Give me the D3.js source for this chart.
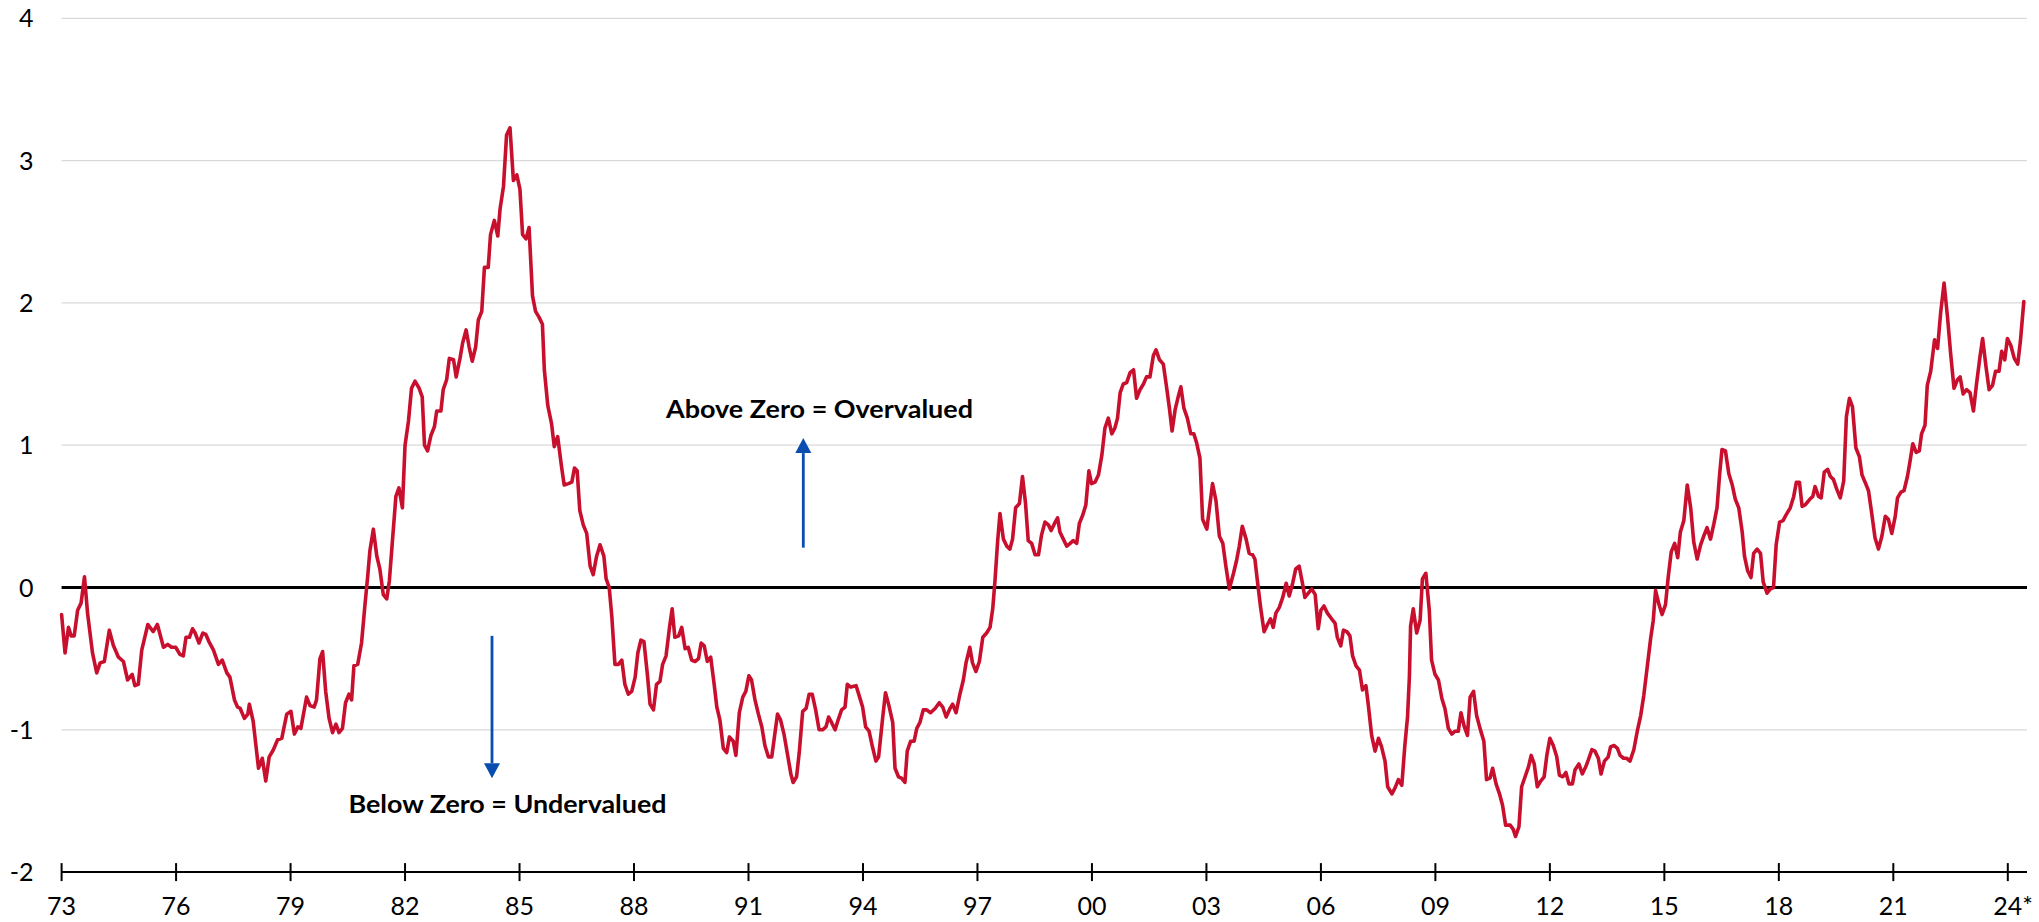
<!DOCTYPE html>
<html>
<head>
<meta charset="utf-8">
<script src="https://cdn.jsdelivr.net/npm/d3@7"></script>
<style>
  html, body { margin: 0; padding: 0; background: #ffffff; }
  svg { display: block; }
</style>
</head>
<body>
<svg id="chart" width="2039" height="922"></svg>
<script>
// ---------- DATA ----------
const xTickYears  = [1973,1976,1979,1982,1985,1988,1991,1994,1997,2000,2003,2006,2009,2012,2015,2018,2021,2024];
const xTickLabels = ["73","76","79","82","85","88","91","94","97","00","03","06","09","12","15","18","21","24*"];
const yTicks = [-2,-1,0,1,2,3,4];

// [decimal year, value] — valuation in standard deviations
const series1973 = [[1973.00,-0.19],[1973.09,-0.46],[1973.18,-0.28],[1973.25,-0.34],[1973.33,-0.34],[1973.42,-0.16],[1973.51,-0.11],[1973.60,0.075],[1973.68,-0.18],[1973.81,-0.46],[1973.92,-0.60],[1974.01,-0.53],[1974.12,-0.52],[1974.25,-0.30],[1974.36,-0.41],[1974.49,-0.49],[1974.62,-0.52],[1974.73,-0.65],[1974.85,-0.61],[1974.92,-0.69],[1975.01,-0.68],[1975.10,-0.44],[1975.26,-0.26],[1975.40,-0.31],[1975.51,-0.26],[1975.67,-0.42],[1975.78,-0.40],[1975.88,-0.42],[1975.99,-0.42],[1976.10,-0.47],[1976.19,-0.48],[1976.26,-0.35],[1976.35,-0.35],[1976.43,-0.29],[1976.50,-0.32],[1976.60,-0.39],[1976.70,-0.32],[1976.78,-0.33],[1976.86,-0.38],[1976.98,-0.44],[1977.11,-0.54],[1977.21,-0.51],[1977.33,-0.60],[1977.41,-0.63],[1977.53,-0.79],[1977.61,-0.84],[1977.68,-0.85],[1977.79,-0.92],[1977.88,-0.89],[1977.92,-0.82],[1978.02,-0.94],[1978.16,-1.27],[1978.26,-1.20],[1978.35,-1.36],[1978.44,-1.19],[1978.55,-1.14],[1978.66,-1.07],[1978.77,-1.06],[1978.90,-0.89],[1979.01,-0.87],[1979.10,-1.03],[1979.19,-0.98],[1979.27,-0.99],[1979.42,-0.77],[1979.51,-0.83],[1979.62,-0.84],[1979.68,-0.79],[1979.77,-0.50],[1979.84,-0.45],[1979.92,-0.73],[1980.01,-0.92],[1980.10,-1.02],[1980.19,-0.96],[1980.27,-1.02],[1980.36,-0.99],[1980.44,-0.81],[1980.53,-0.75],[1980.60,-0.79],[1980.66,-0.55],[1980.76,-0.54],[1980.86,-0.39],[1980.95,-0.12],[1981.02,0.075],[1981.08,0.26]];

const series1981 = [[1981.17,0.41],[1981.26,0.22],[1981.34,0.13],[1981.43,-0.05],[1981.52,-0.08],[1981.59,0.05],[1981.67,0.33],[1981.76,0.64],[1981.84,0.70],[1981.93,0.56],[1982.00,1.00],[1982.09,1.17],[1982.17,1.40],[1982.26,1.45],[1982.37,1.40],[1982.45,1.34],[1982.51,1.00],[1982.59,0.96],[1982.68,1.07],[1982.77,1.13],[1982.83,1.24],[1982.94,1.24],[1983.00,1.39],[1983.09,1.46],[1983.16,1.61],[1983.27,1.60],[1983.34,1.48],[1983.44,1.61],[1983.51,1.72],[1983.60,1.81],[1983.68,1.69],[1983.76,1.59],[1983.85,1.69],[1983.92,1.88],[1984.01,1.94],[1984.08,2.25],[1984.18,2.25],[1984.24,2.48],[1984.34,2.58],[1984.43,2.47],[1984.49,2.66],[1984.58,2.82],[1984.66,3.18],[1984.75,3.23],[1984.84,2.86],[1984.93,2.90],[1985.01,2.80],[1985.08,2.48],[1985.17,2.45],[1985.25,2.53],[1985.34,2.05],[1985.42,1.94],[1985.51,1.90],[1985.60,1.85],[1985.65,1.53],[1985.74,1.28],[1985.84,1.15],[1985.91,0.99],[1986.00,1.06],[1986.10,0.85],[1986.17,0.72],[1986.28,0.73],[1986.37,0.74],[1986.44,0.84],[1986.51,0.82],[1986.58,0.54],[1986.67,0.44],[1986.76,0.38],[1986.85,0.15],[1986.93,0.09],[1987.02,0.22],[1987.11,0.30]];

const series1987 = [[1987.21,0.22],[1987.27,0.06],[1987.35,0.00],[1987.42,-0.21],[1987.50,-0.54],[1987.59,-0.54],[1987.68,-0.51],[1987.76,-0.68],[1987.85,-0.75],[1987.94,-0.73],[1988.03,-0.63],[1988.10,-0.46],[1988.18,-0.37],[1988.26,-0.38],[1988.35,-0.61],[1988.42,-0.82],[1988.51,-0.86],[1988.59,-0.68],[1988.68,-0.66],[1988.75,-0.54],[1988.84,-0.48],[1988.93,-0.28],[1989.00,-0.15],[1989.07,-0.35],[1989.17,-0.34],[1989.25,-0.28],[1989.34,-0.43],[1989.42,-0.42],[1989.51,-0.51],[1989.60,-0.52],[1989.69,-0.50],[1989.76,-0.39],[1989.84,-0.41],[1989.92,-0.52],[1990.01,-0.49],[1990.10,-0.68],[1990.17,-0.84],[1990.25,-0.93],[1990.34,-1.13],[1990.43,-1.16],[1990.50,-1.05],[1990.60,-1.08],[1990.67,-1.18],[1990.76,-0.88],[1990.85,-0.77],[1990.93,-0.73],[1991.01,-0.62],[1991.08,-0.65],[1991.17,-0.79],[1991.26,-0.89],[1991.35,-0.98],[1991.43,-1.11],[1991.52,-1.19],[1991.61,-1.19],[1991.69,-1.03],[1991.76,-0.89],[1991.84,-0.93],[1991.93,-1.03],[1992.02,-1.17],[1992.11,-1.31],[1992.17,-1.37],[1992.26,-1.33],[1992.33,-1.16],[1992.42,-0.87],[1992.51,-0.85],[1992.59,-0.75],[1992.67,-0.75],[1992.76,-0.86],[1992.85,-1.00],[1992.94,-1.00],[1993.03,-0.98],[1993.10,-0.91],[1993.18,-0.95],[1993.27,-1.00],[1993.35,-0.93],[1993.44,-0.86],[1993.53,-0.84],[1993.59,-0.68],[1993.68,-0.70],[1993.82,-0.69],[1993.90,-0.76],[1993.99,-0.84],[1994.07,-0.98],[1994.16,-1.01],[1994.24,-1.11],[1994.34,-1.22],[1994.41,-1.19],[1994.51,-0.93],[1994.59,-0.74],[1994.68,-0.83],[1994.78,-0.95],[1994.84,-1.27],[1994.93,-1.33],[1995.01,-1.34],[1995.10,-1.37],[1995.16,-1.15],[1995.25,-1.08],[1995.34,-1.08],[1995.41,-0.99],[1995.49,-0.95],[1995.58,-0.86],[1995.67,-0.86],[1995.77,-0.88],[1995.89,-0.85],[1996.00,-0.81],[1996.09,-0.84],[1996.18,-0.91],[1996.28,-0.85],[1996.35,-0.82],[1996.44,-0.88],[1996.54,-0.75],[1996.63,-0.65],[1996.70,-0.53],[1996.80,-0.42],[1996.87,-0.53],[1996.96,-0.59],[1997.05,-0.52],[1997.14,-0.35],[1997.24,-0.32],[1997.33,-0.28],[1997.40,-0.15],[1997.46,0.05],[1997.53,0.33]];

const series1997 = [[1997.59,0.52],[1997.68,0.34],[1997.77,0.29],[1997.85,0.27],[1997.92,0.34],[1998.00,0.56],[1998.10,0.59],[1998.18,0.78],[1998.26,0.59],[1998.33,0.33],[1998.42,0.31],[1998.51,0.23],[1998.60,0.23],[1998.68,0.37],[1998.77,0.46],[1998.86,0.44],[1998.93,0.40],[1999.02,0.45],[1999.10,0.49],[1999.16,0.39],[1999.25,0.34],[1999.34,0.29],[1999.43,0.31],[1999.51,0.33],[1999.60,0.31],[1999.67,0.45],[1999.76,0.51],[1999.84,0.58],[1999.92,0.82],[1999.99,0.73],[2000.08,0.74],[2000.17,0.79],[2000.26,0.93],[2000.34,1.12],[2000.43,1.19],[2000.52,1.08],[2000.60,1.12],[2000.67,1.19],[2000.74,1.37],[2000.82,1.43],[2000.91,1.44],[2001.00,1.51],[2001.09,1.53],[2001.17,1.33],[2001.26,1.39],[2001.35,1.43],[2001.43,1.48],[2001.52,1.48],[2001.61,1.63],[2001.68,1.67],[2001.77,1.60],[2001.87,1.57],[2001.96,1.40],[2002.03,1.26],[2002.10,1.10],[2002.18,1.25],[2002.26,1.34],[2002.33,1.41],[2002.41,1.26],[2002.50,1.19],[2002.59,1.08],[2002.67,1.08],[2002.74,1.02],[2002.83,0.91],[2002.90,0.48],[2003.01,0.41],[2003.09,0.58],[2003.16,0.73],[2003.25,0.61],[2003.34,0.36],[2003.43,0.31],[2003.51,0.15],[2003.60,-0.01],[2003.71,0.10],[2003.79,0.19],[2003.86,0.29],[2003.94,0.43],[2004.04,0.34],[2004.12,0.24],[2004.21,0.23],[2004.27,0.20],[2004.33,0.06],[2004.42,-0.14],[2004.51,-0.31],[2004.60,-0.26],[2004.68,-0.22],[2004.75,-0.28],[2004.82,-0.18],[2004.91,-0.14],[2005.00,-0.07],[2005.09,0.03],[2005.17,-0.06]];

const series2005 = [[2005.26,0.03],[2005.34,0.13],[2005.43,0.15],[2005.51,0.04],[2005.58,-0.07],[2005.67,-0.04],[2005.76,-0.01],[2005.85,-0.05],[2005.93,-0.29],[2006.00,-0.16],[2006.08,-0.13],[2006.17,-0.18],[2006.28,-0.22],[2006.37,-0.25],[2006.43,-0.35],[2006.52,-0.41],[2006.59,-0.30],[2006.68,-0.31],[2006.76,-0.34],[2006.83,-0.48],[2006.92,-0.55],[2007.01,-0.58],[2007.09,-0.72],[2007.18,-0.69],[2007.24,-0.82],[2007.33,-1.04],[2007.42,-1.15],[2007.51,-1.06],[2007.59,-1.12],[2007.68,-1.22],[2007.75,-1.40],[2007.86,-1.45],[2007.94,-1.41],[2008.03,-1.35],[2008.12,-1.39],[2008.20,-1.11],[2008.27,-0.91],[2008.32,-0.62],[2008.35,-0.27],[2008.42,-0.15],[2008.51,-0.32],[2008.60,-0.23],[2008.66,0.06],[2008.75,0.10],[2008.84,-0.16],[2008.90,-0.51],[2008.99,-0.61],[2009.08,-0.65],[2009.17,-0.78],[2009.25,-0.85],[2009.34,-0.99],[2009.43,-1.03],[2009.51,-1.01],[2009.60,-1.01],[2009.67,-0.88],[2009.76,-0.98],[2009.84,-1.04],[2009.91,-0.77],[2010.00,-0.73],[2010.08,-0.90],[2010.17,-0.99],[2010.27,-1.08],[2010.34,-1.35],[2010.43,-1.34],[2010.50,-1.27],[2010.59,-1.38],[2010.68,-1.45],[2010.76,-1.53],[2010.84,-1.67],[2010.96,-1.67],[2011.04,-1.70],[2011.10,-1.75],[2011.19,-1.68],[2011.26,-1.40],[2011.35,-1.33],[2011.44,-1.26],[2011.51,-1.18],[2011.59,-1.24],[2011.67,-1.40],[2011.76,-1.36],[2011.85,-1.33],[2011.92,-1.18],[2012.00,-1.06],[2012.09,-1.11],[2012.18,-1.19],[2012.25,-1.32],[2012.34,-1.33],[2012.42,-1.30],[2012.50,-1.38],[2012.59,-1.38],[2012.66,-1.28],[2012.76,-1.24],[2012.85,-1.31],[2012.94,-1.26],[2013.01,-1.21],[2013.10,-1.14],[2013.18,-1.15],[2013.27,-1.20],[2013.34,-1.31],[2013.43,-1.22],[2013.53,-1.19],[2013.59,-1.12],[2013.68,-1.11],[2013.77,-1.13],[2013.84,-1.18],[2013.93,-1.20],[2014.01,-1.20],[2014.10,-1.22]];

const series2014 = [[2014.20,-1.14],[2014.29,-1.01],[2014.38,-0.90],[2014.46,-0.76],[2014.55,-0.56],[2014.64,-0.36],[2014.71,-0.23],[2014.77,-0.02],[2014.86,-0.12],[2014.94,-0.19],[2015.03,-0.12],[2015.10,0.07],[2015.18,0.25],[2015.27,0.31],[2015.35,0.21],[2015.42,0.39],[2015.51,0.47],[2015.60,0.72],[2015.69,0.56],[2015.77,0.32],[2015.86,0.20],[2015.95,0.30],[2016.03,0.36],[2016.12,0.42],[2016.21,0.34],[2016.30,0.45],[2016.38,0.56],[2016.45,0.80],[2016.51,0.97],[2016.60,0.96],[2016.69,0.80],[2016.78,0.72],[2016.86,0.62],[2016.95,0.56],[2017.04,0.39],[2017.10,0.22],[2017.18,0.12],[2017.27,0.07],[2017.34,0.24],[2017.43,0.27],[2017.52,0.24],[2017.59,0.04],[2017.69,-0.04],[2017.78,-0.01],[2017.86,0.00],[2017.93,0.30],[2018.02,0.46],[2018.11,0.47],[2018.19,0.51],[2018.30,0.56],[2018.39,0.64],[2018.46,0.74],[2018.54,0.74],[2018.61,0.57],[2018.69,0.58],[2018.81,0.62],[2018.89,0.64],[2018.95,0.71],[2019.04,0.64],[2019.11,0.63],[2019.19,0.81],[2019.28,0.83],[2019.35,0.78],[2019.43,0.76],[2019.52,0.69],[2019.61,0.63],[2019.70,0.75],[2019.77,1.20],[2019.85,1.33],[2019.93,1.27],[2020.02,0.98],[2020.11,0.92],[2020.18,0.79],[2020.26,0.74],[2020.35,0.68],[2020.44,0.51],[2020.52,0.35],[2020.61,0.27],[2020.70,0.36],[2020.79,0.50],[2020.87,0.48],[2020.96,0.38],[2021.05,0.50],[2021.11,0.63],[2021.20,0.67],[2021.28,0.68],[2021.37,0.78],[2021.44,0.89],[2021.51,1.01],[2021.60,0.95],[2021.68,0.96],[2021.74,1.08],[2021.83,1.14],[2021.89,1.42],[2021.98,1.52],[2022.08,1.74],[2022.16,1.68],[2022.24,1.93],[2022.33,2.14],[2022.42,1.90],[2022.50,1.65],[2022.59,1.40],[2022.68,1.46],[2022.75,1.48],[2022.83,1.36],[2022.92,1.39],[2023.01,1.37],[2023.10,1.24],[2023.18,1.43],[2023.27,1.62],[2023.34,1.75],[2023.43,1.55],[2023.51,1.39],[2023.60,1.42],[2023.68,1.52],[2023.77,1.52],[2023.84,1.66],[2023.92,1.60],[2023.99,1.75],[2024.08,1.70],[2024.17,1.61],[2024.26,1.57],[2024.33,1.73],[2024.42,2.01]];

const annotationAbove = "Above Zero = Overvalued";
const annotationBelow = "Below Zero = Undervalued";

// ---------- LAYOUT ----------
const W = 2039, H = 922;
const plotLeft = 61.6, plotRight = 2027;
const lineColor = "#C8102E";
const arrowColor = "#0A4DB0";
const gridColor = "#d9d9d9";
const font = "Lato, 'Open Sans', sans-serif";

const data = [].concat(series1973, series1981, series1987, series1997, series2005, series2014);

const x = d3.scaleLinear().domain([1973, 2024]).range([plotLeft, 2007.8]);
const y = d3.scaleLinear().domain([-2, 4]).range([872.1, 18.3]);

const svg = d3.select("#chart");
svg.append("rect").attr("width", W).attr("height", H).attr("fill", "#fff");

// gridlines
svg.append("g").selectAll("line")
  .data(yTicks.filter(d => d !== 0 && d !== -2))
  .join("line")
  .attr("x1", plotLeft).attr("x2", plotRight)
  .attr("y1", d => y(d)).attr("y2", d => y(d))
  .attr("stroke", gridColor).attr("stroke-width", 1.3);

// y labels
svg.append("g").selectAll("text")
  .data(yTicks)
  .join("text")
  .attr("x", 33.5)
  .attr("y", d => y(d))
  .attr("dy", "0.36em")
  .attr("text-anchor", "end")
  .attr("font-family", font)
  .attr("font-size", 25)
  .attr("fill", "#000")
  .text(d => d);

// bottom axis line (-2)
svg.append("line")
  .attr("x1", plotLeft).attr("x2", plotRight)
  .attr("y1", y(-2)).attr("y2", y(-2))
  .attr("stroke", "#000").attr("stroke-width", 2);

// ticks
svg.append("g").selectAll("line")
  .data(xTickYears)
  .join("line")
  .attr("x1", d => x(d)).attr("x2", d => x(d))
  .attr("y1", y(-2) - 9).attr("y2", y(-2) + 9)
  .attr("stroke", "#000").attr("stroke-width", 2);

// x labels
const xl = svg.append("g").selectAll("text")
  .data(xTickYears.map((d, i) => ({ year: d, label: xTickLabels[i] })))
  .join("text")
  .attr("x", d => x(d.year))
  .attr("y", 915)
  .attr("text-anchor", "middle")
  .attr("font-family", font)
  .attr("font-size", 25)
  .attr("fill", "#000")
  .text(d => d.label);
// keep the digits of "24*" centred on the tick
xl.filter(d => d.label.endsWith("*")).each(function(d) {
  const t = d3.select(this);
  const tmp = svg.append("text").attr("font-family", font).attr("font-size", 25).text(d.label.replace("*", ""));
  const w = tmp.node().getComputedTextLength();
  tmp.remove();
  t.attr("text-anchor", "start").attr("x", x(d.year) - w / 2);
});

// zero line
svg.append("line")
  .attr("x1", plotLeft).attr("x2", plotRight)
  .attr("y1", y(0)).attr("y2", y(0))
  .attr("stroke", "#000").attr("stroke-width", 2.8);

// series line
const line = d3.line().x(d => x(d[0])).y(d => y(d[1]));
svg.append("path")
  .datum(data)
  .attr("d", line)
  .attr("fill", "none")
  .attr("stroke", lineColor)
  .attr("stroke-width", 3.6)
  .attr("stroke-linejoin", "round")
  .attr("stroke-linecap", "round");

// annotations
function arrow(xc, yFrom, yTip) {
  const dir = yTip < yFrom ? 1 : -1; // 1 = up
  const headLen = 15, headHalf = 8;
  svg.append("line")
    .attr("x1", xc).attr("x2", xc)
    .attr("y1", yFrom).attr("y2", yTip + dir * headLen)
    .attr("stroke", arrowColor).attr("stroke-width", 2.8);
  svg.append("path")
    .attr("d", `M${xc},${yTip} L${xc - headHalf},${yTip + dir * headLen} L${xc + headHalf},${yTip + dir * headLen} Z`)
    .attr("fill", arrowColor);
}
arrow(803.3, y(0.28), y(1.05));
arrow(492, y(-0.34), y(-1.34));

svg.append("text")
  .attr("x", 819.5).attr("y", 418.3)
  .attr("text-anchor", "middle")
  .attr("font-family", font).attr("font-weight", "bold").attr("font-size", 25)
  .attr("textLength", 307).attr("lengthAdjust", "spacingAndGlyphs")
  .text(annotationAbove);

svg.append("text")
  .attr("x", 507.5).attr("y", 812.7)
  .attr("text-anchor", "middle")
  .attr("font-family", font).attr("font-weight", "bold").attr("font-size", 25)
  .attr("textLength", 318).attr("lengthAdjust", "spacingAndGlyphs")
  .text(annotationBelow);
</script>
</body>
</html>
